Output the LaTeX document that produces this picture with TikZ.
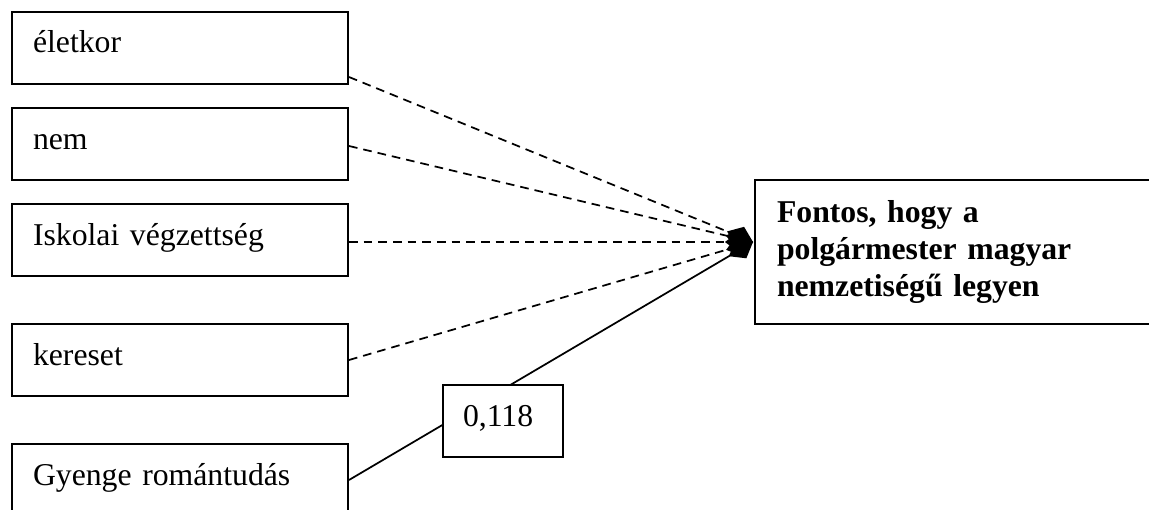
\documentclass[tikz,border=0pt]{standalone}
\usepackage{fontspec}
\setmainfont{Liberation Serif}
\usetikzlibrary{arrows.meta,calc}
\begin{document}
\begin{tikzpicture}[x=0.75pt,y=-0.75pt,
 src/.style={draw, line width=1.5pt, anchor=north west, inner xsep=15.75pt, inner ysep=0pt,
   text width=220.5pt, align=left, text height=30.75pt, text depth=23.25pt,
   font=\fontsize{23.8}{28.1}\selectfont},
 tbox/.style={draw, line width=1.5pt, anchor=north west, inner xsep=16.5pt, inner ysep=0pt,
   text width=282pt, align=left, minimum height=108pt,
   font=\fontsize{23.8}{28.1}\selectfont\bfseries},
 lblbox/.style={draw, fill=white, line width=1.5pt, inner xsep=15pt, inner ysep=0pt,
   text width=60pt, align=left, text height=30.75pt, text depth=23.25pt,
   font=\fontsize{23.8}{28.1}\selectfont},
 link/.style={line width=1.3pt, -{Diamond[length=21pt,width=16pt]}},
 dlink/.style={link, dash pattern=on 6.5pt off 4.5pt},
]
\useasboundingbox (0,0) rectangle (1149,510);
\clip (0,0) rectangle (1149,510);
\node[src] (a) at (11,11) {életkor};
\node[src] (b) at (11,107) {nem};
\node[src] (c) at (11,203) {Iskolai végzettség};
\node[src] (d) at (11,323) {kereset};
\node[src] (e) at (11,443) {Gyenge romántudás};
\node[tbox] (t) at (754,179) {Fontos, hogy a\\polgármester magyar\\nemzetiségű legyen};
\coordinate (tip) at ($(t.west)+(-1,-10)$);
\draw[dlink] ($(a.south east)+(0,-8)$) -- (tip);
\draw[dlink] ($(b.east)+(0,2)$) -- (tip);
\draw[dlink] ($(c.east)+(0,2)$) -- (tip);
\draw[dlink] (d.east) -- (tip);
\draw[link] (e.east) -- (tip);
\node[lblbox] (l) at (503,421) {0,118};
\end{tikzpicture}
\end{document}
